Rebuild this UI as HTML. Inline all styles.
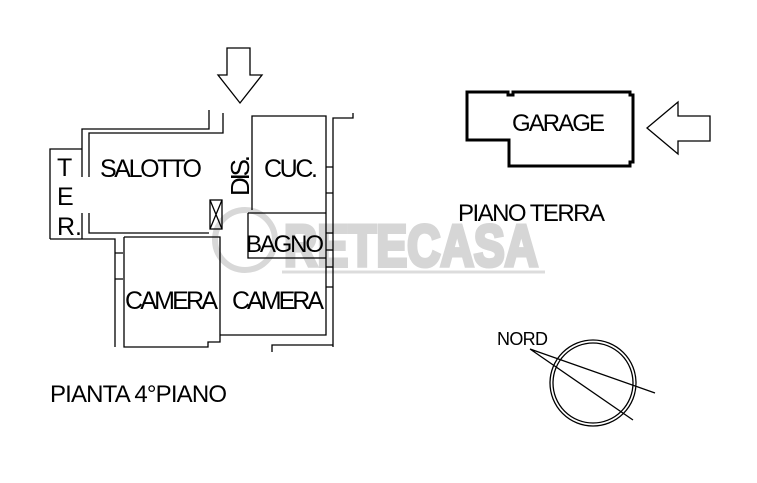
<!DOCTYPE html><html><head><style>body{margin:0;background:#fff}svg{display:block}text{font-family:"Liberation Sans",sans-serif;fill:#000}</style></head><body>
<svg width="757" height="483" viewBox="0 0 757 483" xmlns="http://www.w3.org/2000/svg">
<g fill="none" stroke="#d8d8d8" stroke-width="6">
<circle cx="245" cy="240" r="30"/>
</g>
<text x="284" y="266" font-size="58" font-weight="bold" style="fill:#d6d6d6;stroke:#d6d6d6;stroke-width:4" textLength="254" lengthAdjust="spacingAndGlyphs">RETECASA</text>
<line x1="282" y1="272" x2="545" y2="272" stroke="#dcdcdc" stroke-width="3"/>
<g fill="none" stroke="#000" stroke-width="1.3">
<path d="M227,48 L250,48 L250,75 L262,75 L240,103 L218,75 L227,75 Z"/>
<path d="M209,110 L209,129 L82,129 L82,177"/>
<path d="M223,113 L223,133 L89,133 L89,177"/>
<path d="M89,213 L89,233 L209,233"/>
<path d="M82,213 L82,239"/>
<path d="M50,239 L50,149 L82,149"/>
<path d="M50,239 L115,239 L115,347"/>
<path d="M115,253 L123,253 M115,279 L123,279"/>
<path d="M124,237 L220,237 L220,335 M124,237 L124,347 L208,347 L208,342 L220,342 L220,335"/>
<rect x="210" y="200" width="12" height="29"/>
<path d="M210,200 L222,229 M222,200 L210,229"/>
<path d="M252,210 L252,116 L326,116 L326,335 L220,335"/>
<path d="M248,213 L326,213 M248,213 L248,258 L326,258"/>
<path d="M353,113 L353,118 L333,118 L333,347"/>
<path d="M326,167 L333,167 M326,193 L333,193 M326,233 L333,233 M326,250 L333,250 M326,267 L333,267 M326,287 L333,287"/>
<path d="M272,352 L272,345 L333,345"/>
<path d="M647,128 L678,102 L678,116 L710,116 L710,141 L678,141 L678,154 Z"/>
<circle cx="593" cy="383" r="40"/>
<circle cx="593" cy="383" r="43"/>
<path d="M530,349 L655,393 M530,349 L633,420"/>
</g>
<path d="M467,92 L508,92 L508,95 L513,95 L513,92 L630,92 L630,95 L633,95 L633,162 L630,162 L630,166 L509,166 L509,140 L467,140 Z" fill="none" stroke="#000" stroke-width="3"/>
<g font-size="25" lengthAdjust="spacingAndGlyphs">
<text x="100" y="177" textLength="102">SALOTTO</text>
<text x="264" y="177" textLength="54">CUC.</text>
<text x="57" y="176">T</text>
<text x="57" y="205">E</text>
<text x="57" y="235">R.</text>
<text transform="translate(249,196) rotate(-90)" font-size="26" textLength="41">DIS.</text>
<text x="246" y="252" font-size="24" textLength="78">BAGNO</text>
<text x="125" y="309" textLength="93">CAMERA</text>
<text x="232" y="309" textLength="92">CAMERA</text>
<text x="50" y="402" font-size="24" textLength="177">PIANTA 4°PIANO</text>
<text x="512" y="131" font-size="24" textLength="93">GARAGE</text>
<text x="458" y="221" font-size="24" textLength="147">PIANO TERRA</text>
<text x="497" y="345" font-size="18" textLength="51">NORD</text>
</g>
</svg></body></html>
